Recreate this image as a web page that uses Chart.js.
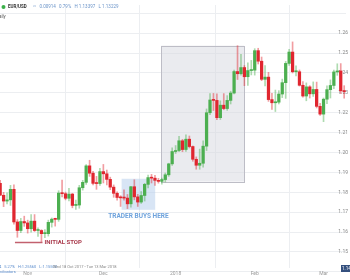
<!DOCTYPE html>
<html><head><meta charset="utf-8">
<script src="https://cdn.jsdelivr.net/npm/chart.js@4.4.1/dist/chart.umd.min.js"></script>
<style>html,body{margin:0;padding:0;background:#fff}#wrap{width:350px;height:280px;position:relative}</style>
</head><body><div id="wrap"><canvas id="c"></canvas></div>
<script>
const dates = ['2017-10-18','2017-10-19','2017-10-20','2017-10-23','2017-10-24','2017-10-25','2017-10-26','2017-10-27','2017-10-30','2017-10-31',
'2017-11-01','2017-11-02','2017-11-03','2017-11-06','2017-11-07','2017-11-08','2017-11-09','2017-11-10','2017-11-13','2017-11-14','2017-11-15','2017-11-16','2017-11-17','2017-11-20','2017-11-21','2017-11-22','2017-11-23','2017-11-24','2017-11-27','2017-11-28','2017-11-29','2017-11-30',
'2017-12-01','2017-12-04','2017-12-05','2017-12-06','2017-12-07','2017-12-08','2017-12-11','2017-12-12','2017-12-13','2017-12-14','2017-12-15','2017-12-18','2017-12-19','2017-12-20','2017-12-21','2017-12-22','2017-12-25','2017-12-26','2017-12-27','2017-12-28','2017-12-29',
'2018-01-01','2018-01-02','2018-01-03','2018-01-04','2018-01-05','2018-01-08','2018-01-09','2018-01-10','2018-01-11','2018-01-12','2018-01-15','2018-01-16','2018-01-17','2018-01-18','2018-01-19','2018-01-22','2018-01-23','2018-01-24','2018-01-25','2018-01-26','2018-01-29','2018-01-30','2018-01-31',
'2018-02-01','2018-02-02','2018-02-05','2018-02-06','2018-02-07','2018-02-08','2018-02-09','2018-02-12','2018-02-13','2018-02-14','2018-02-15','2018-02-16','2018-02-19','2018-02-20','2018-02-21','2018-02-22','2018-02-23','2018-02-26','2018-02-27','2018-02-28',
'2018-03-01','2018-03-02','2018-03-05','2018-03-06','2018-03-07','2018-03-08','2018-03-09','2018-03-12','2018-03-13'];
const opens = [1.1764,1.1787,1.1845,1.1785,1.1756,1.1762,1.1815,1.1651,1.1608,1.1653,
1.1646,1.1617,1.1655,1.1608,1.1608,1.1592,1.1592,1.1649,1.1665,1.1664,1.1796,1.1793,1.1770,1.1791,1.1734,1.1736,1.1823,1.1850,1.1933,1.1896,1.1845,1.1844,
1.1904,1.1893,1.1865,1.1826,1.1795,1.1774,1.1772,1.1771,1.1742,1.1828,1.1777,1.1751,1.1784,1.1840,1.1874,1.1871,1.1860,1.1855,1.1864,1.1888,1.1943,
1.2005,1.2010,1.2059,1.2015,1.2067,1.2030,1.1966,1.1936,1.1946,1.2032,1.2200,1.2264,1.2262,1.2175,1.2238,1.2221,1.2262,1.2299,1.2407,1.2396,1.2427,1.2381,1.2412,
1.2414,1.2512,1.2459,1.2368,1.2379,1.2266,1.2250,1.2253,1.2294,1.2351,1.2448,1.2505,1.2406,1.2406,1.2338,1.2284,1.2330,1.2295,1.2317,1.2232,
1.2193,1.2268,1.2316,1.2337,1.2405,1.2410,1.2310,1.2306,1.2336];
const highs = [1.1807,1.1861,1.1860,1.1800,1.1797,1.1835,1.1837,1.1663,1.1669,1.1680,
1.1660,1.1688,1.1688,1.1621,1.1612,1.1613,1.1660,1.1671,1.1670,1.1808,1.1861,1.1801,1.1820,1.1795,1.1761,1.1835,1.1860,1.1939,1.1961,1.1905,1.1880,1.1920,
1.1940,1.1912,1.1876,1.1837,1.1802,1.1783,1.1813,1.1789,1.1830,1.1863,1.1790,1.1804,1.1845,1.1886,1.1890,1.1885,1.1870,1.1872,1.1897,1.1946,1.2023,
1.2035,1.2081,1.2066,1.2089,1.2083,1.2033,1.1978,1.2017,1.2059,1.2219,1.2296,1.2297,1.2295,1.2260,1.2296,1.2286,1.2308,1.2414,1.2537,1.2493,1.2437,1.2451,1.2463,
1.2522,1.2524,1.2480,1.2437,1.2403,1.2297,1.2314,1.2311,1.2369,1.2458,1.2519,1.2556,1.2436,1.2415,1.2356,1.2350,1.2336,1.2355,1.2354,1.2247,
1.2274,1.2335,1.2365,1.2414,1.2446,1.2447,1.2336,1.2357,1.2408];
const lows = [1.1759,1.1760,1.1784,1.1728,1.1741,1.1734,1.1640,1.1574,1.1597,1.1629,
1.1595,1.1599,1.1603,1.1578,1.1550,1.1572,1.1580,1.1625,1.1630,1.1654,1.1777,1.1762,1.1757,1.1722,1.1714,1.1720,1.1811,1.1840,1.1880,1.1837,1.1815,1.1834,
1.1847,1.1837,1.1813,1.1775,1.1761,1.1729,1.1760,1.1718,1.1725,1.1762,1.1729,1.1744,1.1756,1.1822,1.1847,1.1835,1.1846,1.1841,1.1852,1.1880,1.1935,
1.1995,1.2004,1.2004,1.2006,1.2023,1.1956,1.1916,1.1916,1.1926,1.2010,1.2190,1.2211,1.2165,1.2166,1.2215,1.2212,1.2244,1.2295,1.2367,1.2389,1.2336,1.2337,1.2390,
1.2389,1.2445,1.2361,1.2335,1.2257,1.2217,1.2206,1.2244,1.2276,1.2272,1.2438,1.2400,1.2385,1.2334,1.2278,1.2260,1.2274,1.2282,1.2224,1.2187,
1.2155,1.2246,1.2274,1.2321,1.2388,1.2296,1.2273,1.2283,1.2322];
const closes = [1.1787,1.1845,1.1785,1.1756,1.1762,1.1815,1.1651,1.1608,1.1653,1.1646,
1.1617,1.1655,1.1608,1.1608,1.1592,1.1592,1.1649,1.1665,1.1664,1.1796,1.1793,1.1770,1.1791,1.1734,1.1736,1.1823,1.1850,1.1933,1.1896,1.1845,1.1844,1.1904,
1.1893,1.1865,1.1826,1.1795,1.1774,1.1772,1.1771,1.1742,1.1828,1.1777,1.1751,1.1784,1.1840,1.1874,1.1871,1.1860,1.1855,1.1864,1.1888,1.1943,1.2005,
1.2010,1.2059,1.2015,1.2067,1.2030,1.1966,1.1936,1.1946,1.2032,1.2200,1.2264,1.2262,1.2175,1.2238,1.2221,1.2262,1.2299,1.2407,1.2396,1.2427,1.2381,1.2412,1.2414,
1.2512,1.2459,1.2368,1.2379,1.2266,1.2250,1.2253,1.2294,1.2351,1.2448,1.2505,1.2406,1.2406,1.2338,1.2284,1.2330,1.2295,1.2317,1.2232,1.2193,
1.2268,1.2316,1.2337,1.2405,1.2410,1.2310,1.2306,1.2336,1.2390];
const monthLabels = ['Nov','Dec','2018','Feb','Mar'];
const yGridValues = [1.14,1.15,1.16,1.17,1.18,1.19,1.20,1.21,1.22,1.23,1.24,1.25,1.26,1.27];
const yTickLabels = ['','1.15','1.16','1.17','1.18','1.19','1.20','1.21','1.22','1.23','1.24','1.25','1.26',''];

const monthIdx = [];
dates.forEach((d,i)=>{ if(i>0 && d.slice(0,7)!==dates[i-1].slice(0,7)) monthIdx.push(i); });

const UP='#4caf50', DOWN='#e0262f', UPW='rgba(76,175,80,0.45)', DOWNW='rgba(224,38,47,0.45)';
const isUp = i => closes[i] >= opens[i];
const FONT = 'Roboto, "DejaVu Sans", sans-serif';

const zones = {
  swing:{from:48.8,to:72.9,top:1.2537,bottom:1.1854},
  entry:{from:37.3,to:47.07,top:1.1868,bottom:1.1712}
};
const stop = {from:6.3,to:14.3,price:1.1550,textAt:14.9};
const buyText = {at:42.2,price:1.1678};

const annot = {
  id:'annot',
  beforeDatasetsDraw(chart){
    const {ctx, scales:{x,y}} = chart;
    ctx.save();
    let z = zones.swing;
    let x0=x.getPixelForValue(z.from), x1=x.getPixelForValue(z.to), y0=y.getPixelForValue(z.top), y1=y.getPixelForValue(z.bottom);
    ctx.fillStyle='rgba(214,215,224,0.5)';
    ctx.fillRect(x0,y0,x1-x0,y1-y0);
    ctx.strokeStyle='#bdbdc6'; ctx.lineWidth=1;
    ctx.strokeRect(Math.round(x0)+0.5,Math.round(y0)+0.5,Math.round(x1-x0),Math.round(y1-y0));
    z = zones.entry;
    x0=x.getPixelForValue(z.from); x1=x.getPixelForValue(z.to); y0=y.getPixelForValue(z.top); y1=y.getPixelForValue(z.bottom);
    ctx.fillStyle='rgba(184,208,236,0.55)';
    ctx.fillRect(x0,y0,x1-x0,y1-y0);
    ctx.restore();
  },
  afterDraw(chart){
    const {ctx, scales:{x,y}} = chart;
    ctx.save();
    const sy = Math.round(y.getPixelForValue(stop.price))+0.5;
    ctx.strokeStyle='#c2606e'; ctx.lineWidth=1.5;
    ctx.beginPath(); ctx.moveTo(x.getPixelForValue(stop.from),sy); ctx.lineTo(x.getPixelForValue(stop.to),sy); ctx.stroke();
    ctx.fillStyle='#a8384a'; ctx.font='bold 6px '+FONT; ctx.textBaseline='middle'; ctx.textAlign='left';
    ctx.fillText('INITIAL STOP', x.getPixelForValue(stop.textAt), sy);
    ctx.fillStyle='#6fa3dc'; ctx.font='bold 6.5px '+FONT; ctx.textAlign='center';
    ctx.fillText('TRADER BUYS HERE', x.getPixelForValue(buyText.at), y.getPixelForValue(buyText.price));
    ctx.textAlign='left';
    ctx.fillStyle='#3cb04a'; ctx.beginPath(); ctx.arc(3.5,7,2,0,Math.PI*2); ctx.fill();
    ctx.fillStyle='#333'; ctx.font='bold 4.5px '+FONT; ctx.fillText('EUR/USD', 8, 7);
    ctx.fillStyle='#6a93c8'; ctx.font='4.5px '+FONT; ctx.fillText('~   0.00914   0.79%   H 1.13397   L 1.13229', 33, 7);
    ctx.fillStyle='#555'; ctx.font='4.5px '+FONT; ctx.fillText('Daily', -4, 17);
    ctx.fillStyle='#5b8ccc'; ctx.font='4px '+FONT;
    ctx.fillText('4   5.27%   H:1.25560   L:1.15500', -1, 267);
    ctx.fillStyle='#888'; ctx.fillText('Wed 18 Oct 2017 - Tue 13 Mar 2018', 53, 267);
    ctx.fillStyle='#5b8ccc'; ctx.fillText('Indicators', -2, 272);
    ctx.fillStyle='#34507e'; ctx.fillRect(341,265,9,7);
    ctx.fillStyle='#fff'; ctx.font='4.5px '+FONT; ctx.fillText('1.14', 342, 268.5);
    ctx.restore();
  }
};

new Chart(document.getElementById('c'), {
  type:'bar',
  data:{datasets:[
    {label:'Body', data:dates.map((d,i)=>({x:i,y:[opens[i],closes[i]]})), backgroundColor:c=>isUp(c.dataIndex)?UP:DOWN, barThickness:2.6, minBarLength:1, grouped:false, order:0},
    {label:'Wick', data:dates.map((d,i)=>({x:i,y:[lows[i],highs[i]]})), backgroundColor:c=>isUp(c.dataIndex)?UPW:DOWNW, barThickness:1, grouped:false, order:1}
  ]},
  options:{
    responsive:true, maintainAspectRatio:false, animation:false, devicePixelRatio:1,
    layout:{padding:0},
    plugins:{legend:{display:false}, tooltip:{enabled:false}},
    scales:{
      x:{type:'linear', min:1.954, max:102.53, offset:false,
        afterBuildTicks:s=>{s.ticks=monthIdx.map(v=>({value:v}));},
        ticks:{callback:(v,i)=>monthLabels[i], font:{size:5,family:FONT}, color:'#999', padding:3, maxRotation:0, autoSkip:false},
        grid:{color:'#eceef1', drawTicks:false}, border:{display:false}},
      y:{position:'right', min:1.14195, max:1.27415,
        afterBuildTicks:s=>{s.ticks=yGridValues.map(v=>({value:v}));},
        ticks:{mirror:true, padding:2, callback:(v,i)=>yTickLabels[i], font:{size:5,family:FONT}, color:'#888'},
        grid:{color:'#eceef1', drawTicks:false}, border:{display:false}}
    }
  },
  plugins:[annot]
});
</script></body></html>
